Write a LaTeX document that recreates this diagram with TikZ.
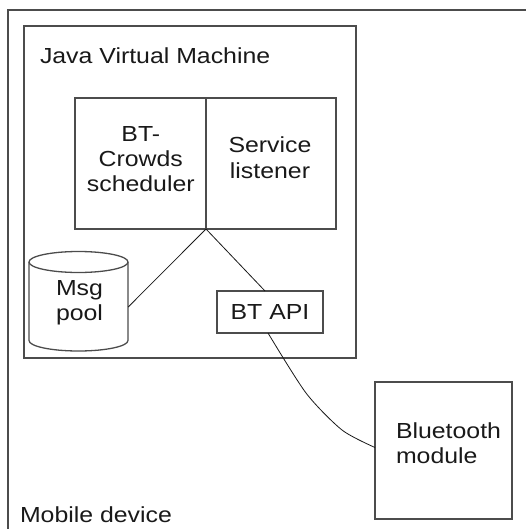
\documentclass[tikz,border=0pt]{standalone}
\usepackage{fontspec}
\setmainfont{Liberation Sans}[FakeStretch=1.14]
\usetikzlibrary{calc}
\begin{document}
\begin{tikzpicture}[x=1pt,y=-1pt,
  box/.style={draw=black!70, line width=1.3pt, inner sep=0pt, outer sep=0pt},
  conn/.style={draw=black!90, line width=0.8pt},
  txt/.style={font=\fontsize{21.8}{25.3}\selectfont, text=black!90, inner sep=0pt, outer sep=0pt}]
\useasboundingbox (0,0) rectangle (526,529);
% outer (mobile device) frame, cropped at right and bottom
\coordinate (mdtr) at (527,10);
\coordinate (mdtl) at (8,10);
\coordinate (mdbl) at (8,530);
\draw[draw=black!70, line width=1.3pt] (mdtr) -- (mdtl) -- (mdbl);
\node[txt, anchor=base west] (mdlabel) at (20,522.7) {Mobile device};
% JVM
\node[box, minimum width=332, minimum height=332] (jvm) at (190,192) {};
\node[txt, anchor=base west] (jvmlabel) at (40,63.3) {Java Virtual Machine};
% scheduler / listener
\node[box, minimum width=131, minimum height=131] (sched) at (140.5,163.5) {};
\node[box, minimum width=130, minimum height=131] (listen) at (271,163.5) {};
\node[txt, align=center, anchor=base] (schedtxt) at (140.8,191.7) {BT-\\Crowds\\scheduler};
\node[txt, align=center, anchor=base] (listentxt) at (270,178.3) {Service\\listener};
% Msg pool cylinder
\node[minimum width=99, minimum height=100, inner sep=0pt] (msg) at (78.5,301) {};
\draw[box] (78.5,262) ellipse [x radius=49.5pt, y radius=10.5pt];
\draw[box] (29,262) -- (29,340.5) arc[start angle=180, end angle=360, x radius=49.5pt, y radius=10.5pt] -- (128,262);
\node[txt, align=center, anchor=base] (msgtxt) at (79.5,320.5) {Msg\\pool};
% BT API
\node[box, minimum width=106, minimum height=42, txt] (btapi) at (270,312) {BT API};
% Bluetooth module
\node[box, minimum width=137, minimum height=137] (bt) at (443.5,450.5) {};
\node[txt, align=left, anchor=base west] (bttxt) at (396,463.5) {Bluetooth\\module};
% connectors
\draw[conn] (sched.south east) -- ($(msg.east)+(0,6)$);
\draw[conn] (sched.south east) -- ($(btapi.north)+(-5,0)$);
\draw[conn] plot[smooth, tension=0.45] coordinates {($(btapi.south)+(-2,0)$) (306,393) (342,430) ($(bt.west)+(0,-3)$)};
\end{tikzpicture}
\end{document}
